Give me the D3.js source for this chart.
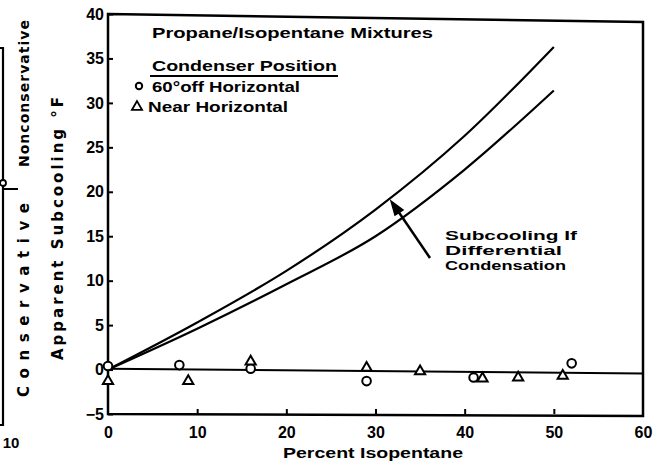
<!DOCTYPE html>
<html><head><meta charset="utf-8">
<script src="https://cdn.jsdelivr.net/npm/d3@7"></script>
<style>body{margin:0;background:#fff}svg{display:block}text{font-family:"Liberation Sans",Arial,sans-serif;font-weight:bold;fill:#000}text.rot{font-family:"DejaVu Sans",sans-serif}</style>
</head><body>
<svg id="c" width="662" height="463"></svg>
<script>
const xTicks = [0, 10, 20, 30, 40, 50, 60];
const yTicks = [-5, 0, 5, 10, 15, 20, 25, 30, 35, 40];
const curveX = [0, 10, 20, 30, 40, 50];
const upperCurve = [0, 5.3, 11.1, 18.0, 26.3, 36.3];
const lowerCurve = [0, 4.6, 9.6, 15.0, 22.5, 31.4];
const baselineX = [0, 60];
const baselineY = [0.1, -0.45];
const circleX = [0, 8, 16, 29, 41, 52];
const circleY = [0.4, 0.5, 0.1, -1.3, -0.9, 0.7];
const triX = [0, 9, 16, 29, 35, 42, 46, 51];
const triY = [-1.3, -1.3, 0.9, 0.2, -0.2, -1.0, -0.9, -0.7];

const svg = d3.select("#c");
const x = d3.scaleLinear().domain([0, 60]).range([108, 643]);
const y = d3.scaleLinear().domain([-5, 40]).range([414, 14]);

// frame
svg.append("path")
  .attr("d", `M${x(0)},${y(40)} L${x(60)},${y(40) + 8} L${x(60)},${y(-5) + 2} L${x(0)},${y(-5)} Z`)
  .attr("fill", "none").attr("stroke", "#000").attr("stroke-width", 2.5);

// axes
const yAxis = d3.axisLeft(y).tickValues(yTicks).tickSizeInner(-5).tickSizeOuter(0).tickPadding(4);
const gy = svg.append("g").attr("transform", `translate(${x(0)},0)`).call(yAxis);
gy.select(".domain").remove();
gy.selectAll("line").attr("stroke", "#000").attr("stroke-width", 2);
gy.selectAll("text").attr("font-size", 16).attr("font-family", "Liberation Sans, Arial").attr("font-weight", "bold");

const xAxis = d3.axisBottom(x).tickValues(xTicks).tickSizeInner(-5).tickSizeOuter(0).tickPadding(13);
const gx = svg.append("g").attr("transform", `translate(0,${y(-5)})`).call(xAxis);
gx.select(".domain").remove();
gx.selectAll("line").attr("stroke", "#000").attr("stroke-width", 2)
  .attr("opacity", d => (d === 0 || d === 60) ? 0 : 1);
gx.selectAll("text").attr("font-size", 16).attr("font-family", "Liberation Sans, Arial").attr("font-weight", "bold");

// baseline
const bl = d3.line().x(d => x(d[0])).y(d => y(d[1]));
svg.append("path").datum(d3.zip(baselineX, baselineY)).attr("d", bl)
  .attr("fill", "none").attr("stroke", "#000").attr("stroke-width", 2);

// curves
const cl = d3.line().x(d => x(d[0])).y(d => y(d[1])).curve(d3.curveMonotoneX);
[upperCurve, lowerCurve].forEach(s => {
  svg.append("path").datum(d3.zip(curveX, s)).attr("d", cl)
    .attr("fill", "none").attr("stroke", "#000").attr("stroke-width", 2.2);
});

// markers
svg.append("g").selectAll("circle").data(d3.zip(circleX, circleY)).join("circle")
  .attr("cx", d => x(d[0])).attr("cy", d => y(d[1])).attr("r", 4.3)
  .attr("fill", "#fff").attr("stroke", "#000").attr("stroke-width", 2);
const tri = d3.symbol().type(d3.symbolTriangle).size(45);
svg.append("g").selectAll("path").data(d3.zip(triX, triY)).join("path")
  .attr("d", tri).attr("transform", d => `translate(${x(d[0])},${y(d[1])})`)
  .attr("fill", "#fff").attr("stroke", "#000").attr("stroke-width", 2);

// legend / title
function txt(t, px, py, len, size, anchor) {
  const e = svg.append("text").attr("x", px).attr("y", py).attr("font-size", size || 15).text(t);
  if (len) e.attr("textLength", len).attr("lengthAdjust", "spacingAndGlyphs");
  if (anchor) e.attr("text-anchor", anchor);
  return e;
}
txt("Propane/Isopentane Mixtures", 152, 38, 281);
txt("Condenser Position", 152, 71, 185);
svg.append("line").attr("x1", 150).attr("x2", 338).attr("y1", 76).attr("y2", 76).attr("stroke", "#000").attr("stroke-width", 2);
svg.append("circle").attr("cx", 139).attr("cy", 86).attr("r", 3.2).attr("fill", "#fff").attr("stroke", "#000").attr("stroke-width", 2);
txt("60°off Horizontal", 152, 92, 148);
svg.append("path").attr("d", tri).attr("transform", "translate(137,107)").attr("fill", "#fff").attr("stroke", "#000").attr("stroke-width", 1.8);
txt("Near Horizontal", 148, 112, 140);

// annotation
txt("Subcooling If", 445, 240, 132, 13);
txt("Differential", 445, 255, 117, 13);
txt("Condensation", 445, 270, 121, 13);
svg.append("line").attr("x1", 430).attr("y1", 258).attr("x2", 398).attr("y2", 211)
  .attr("stroke", "#000").attr("stroke-width", 2.5);
svg.append("path").attr("d", "M391,201 L403,210 L395,215 Z").attr("fill", "#000").attr("stroke", "#000").attr("stroke-width", 1.5);

// axis titles
txt("Percent Isopentane", 283, 458, 180, 14);
svg.append("text").attr("class", "rot").attr("transform", "translate(63,360) rotate(-90)").attr("font-size", 15)
  .attr("textLength", 263).attr("lengthAdjust", "spacing").text("Apparent Subcooling °F");

// left clipped fragment
svg.append("path").attr("d", "M0,48 L3,48 L3,425 L0,425").attr("fill", "none").attr("stroke", "#000").attr("stroke-width", 2.2);
svg.append("line").attr("x1", 3).attr("x2", 18).attr("y1", 189).attr("y2", 189).attr("stroke", "#000").attr("stroke-width", 2);
svg.append("circle").attr("cx", 3).attr("cy", 183).attr("r", 3).attr("fill", "#fff").attr("stroke", "#000").attr("stroke-width", 1.8);
svg.append("text").attr("class", "rot").attr("transform", "translate(29,167) rotate(-90)").attr("font-size", 14)
  .attr("textLength", 147).attr("lengthAdjust", "spacing").text("Nonconservative");
svg.append("text").attr("class", "rot").attr("transform", "translate(29,397) rotate(-90)").attr("font-size", 15)
  .attr("textLength", 194).attr("lengthAdjust", "spacing").text("Conservative");
txt("10", 11, 448, null, 15, "middle");
</script>
</body></html>
